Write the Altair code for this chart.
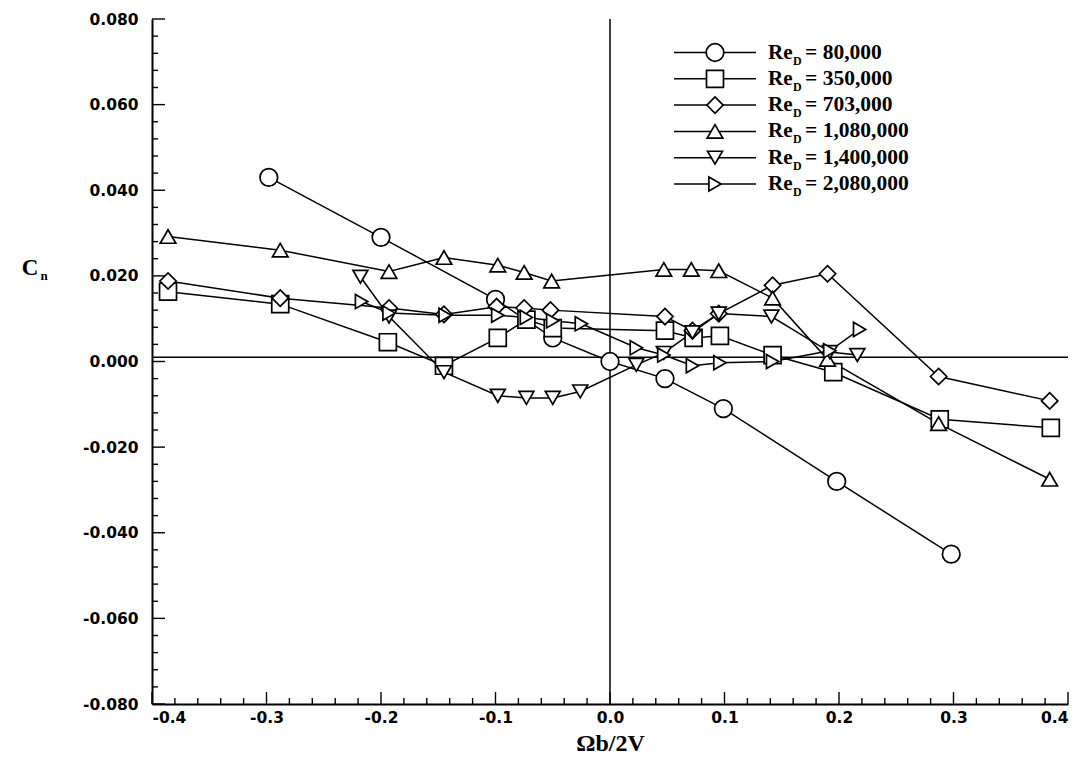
import altair as alt
import pandas as pd

# Yawing-moment coefficient C_n versus spin parameter Ωb/2V, one series per Reynolds number
series_labels = ["80,000", "350,000", "703,000", "1,080,000", "1,400,000", "2,080,000"]
series_shapes = ["circle", "square", "diamond", "triangle-up", "triangle-down", "triangle-right"]
series_sizes = [310, 200, 330, 300, 300, 300]

re80_x = [-0.298, -0.200, -0.100, -0.050, 0.000, 0.048, 0.099, 0.198, 0.298]
re80_cn = [0.0430, 0.0290, 0.0145, 0.0055, 0.0000, -0.0040, -0.0110, -0.0280, -0.0450]

re350_x = [-0.386, -0.288, -0.194, -0.145, -0.098, -0.073, -0.050, 0.048, 0.073, 0.096, 0.142, 0.195, 0.288, 0.385]
re350_cn = [0.0163, 0.0134, 0.0045, -0.0010, 0.0055, 0.0098, 0.0078, 0.0072, 0.0055, 0.0060, 0.0015, -0.0025, -0.0135, -0.0155]

re703_x = [-0.386, -0.288, -0.193, -0.145, -0.099, -0.075, -0.052, 0.048, 0.072, 0.095, 0.142, 0.190, 0.287, 0.384]
re703_cn = [0.0188, 0.0148, 0.0125, 0.0110, 0.0128, 0.0125, 0.0120, 0.0105, 0.0072, 0.0112, 0.0178, 0.0205, -0.0035, -0.0092]

re1080_x = [-0.386, -0.288, -0.193, -0.145, -0.098, -0.075, -0.051, 0.047, 0.071, 0.095, 0.142, 0.190, 0.287, 0.384]
re1080_cn = [0.0292, 0.0260, 0.0210, 0.0243, 0.0225, 0.0208, 0.0188, 0.0215, 0.0215, 0.0212, 0.0148, 0.0005, -0.0145, -0.0275]

re1400_x = [-0.218, -0.193, -0.145, -0.098, -0.073, -0.050, -0.026, 0.023, 0.047, 0.072, 0.095, 0.141, 0.192, 0.216]
re1400_cn = [0.0198, 0.0105, -0.0025, -0.0080, -0.0085, -0.0085, -0.0070, -0.0008, 0.0020, 0.0068, 0.0112, 0.0105, 0.0022, 0.0015]

re2080_x = [-0.217, -0.193, -0.144, -0.098, -0.073, -0.050, -0.025, 0.023, 0.047, 0.072, 0.096, 0.142, 0.192, 0.218]
re2080_cn = [0.0140, 0.0113, 0.0108, 0.0108, 0.0103, 0.0095, 0.0088, 0.0032, 0.0015, -0.0010, -0.0003, 0.0000, 0.0025, 0.0075]

x_ticks = [-0.4, -0.3, -0.2, -0.1, 0.0, 0.1, 0.2, 0.3, 0.4]
y_ticks = [-0.08, -0.06, -0.04, -0.02, 0.0, 0.02, 0.04, 0.06, 0.08]
y_minor = [round(-0.08 + 0.004 * i, 3) for i in range(41)]
x_minor = [round(-0.4 + 0.02 * i, 2) for i in range(41)]
zero_line_cn = 0.001

all_x = [re80_x, re350_x, re703_x, re1080_x, re1400_x, re2080_x]
all_cn = [re80_cn, re350_cn, re703_cn, re1080_cn, re1400_cn, re2080_cn]

rows = []
for label, xs_, cns in zip(series_labels, all_x, all_cn):
    for i, (xv, cv) in enumerate(zip(xs_, cns)):
        rows.append({"series": label, "x": xv, "cn": cv, "idx": i})
data = pd.DataFrame(rows)

W, H = 916, 685
X_DOM = [-0.4, 0.4]
Y_DOM = [-0.08, 0.08]
xs = alt.Scale(domain=X_DOM, nice=False, zero=False)
ys = alt.Scale(domain=Y_DOM, nice=False, zero=False)
shape_scale = alt.Scale(domain=series_labels, range=series_shapes)
size_scale = alt.Scale(domain=series_labels, range=series_sizes)

base = alt.Chart(data)

lines = base.mark_line(color="black", strokeWidth=1.5).encode(
    x=alt.X("x:Q", scale=xs, axis=alt.Axis(
        values=x_ticks, title="Ωb/2V", labelExpr="replace(format(datum.value, '.1f'), '−', '-')",
        labelFont="DejaVu Sans", labelFontWeight="bold", labelFontSize=15.5, labelColor="black",
        labelPadding=6, ticks=False, grid=False, domainColor="black", domainWidth=2,
        titleFont="Liberation Serif", titleFontWeight="bold", titleFontSize=24, titleColor="black",
        titlePadding=6)),
    y=alt.Y("cn:Q", scale=ys, axis=alt.Axis(
        values=y_ticks, title=None, labelExpr="replace(format(datum.value, '.3f'), '−', '-')",
        labelFont="DejaVu Sans", labelFontWeight="bold", labelFontSize=15.5, labelColor="black",
        labelPadding=14, ticks=False, grid=False, domainColor="black", domainWidth=2)),
    detail="series:N",
    order="idx:Q",
)

points = base.mark_point(filled=True, fill="white", stroke="black", strokeWidth=1.7, opacity=1).encode(
    x=alt.X("x:Q", scale=xs),
    y=alt.Y("cn:Q", scale=ys),
    shape=alt.Shape("series:N", scale=shape_scale, legend=None),
    size=alt.Size("series:N", scale=size_scale, legend=None),
)

# reference lines through the origin
vline = alt.Chart(pd.DataFrame({"x": [0.0]})).mark_rule(color="black", strokeWidth=1.5).encode(
    x=alt.X("x:Q", scale=xs))
hline = alt.Chart(pd.DataFrame({"cn": [zero_line_cn]})).mark_rule(color="black", strokeWidth=1.5).encode(
    y=alt.Y("cn:Q", scale=ys))

# inward ticks on the left axis
ytick_df = pd.DataFrame({"cn": y_minor, "len": [13 if abs(round(v / 0.02) * 0.02 - v) < 1e-9 else 6 for v in y_minor]})
yticks = alt.Chart(ytick_df).transform_calculate(x0="0").mark_rule(color="black", strokeWidth=1.4).encode(
    y=alt.Y("cn:Q", scale=ys),
    x=alt.X("x0:Q", scale=None),
    x2="len:Q",
)

# inward ticks on the bottom axis
xtick_df = pd.DataFrame({"x": x_minor, "top": [H - 12 if abs(round(v / 0.1) * 0.1 - v) < 1e-9 else H - 6 for v in x_minor]})
xticks = alt.Chart(xtick_df).transform_calculate(y0=str(H)).mark_rule(color="black", strokeWidth=1.4).encode(
    x=alt.X("x:Q", scale=xs),
    y=alt.Y("y0:Q", scale=None),
    y2="top:Q",
)

# legend: line sample with centred marker, then "Re_D = value"
leg = pd.DataFrame({
    "series": series_labels,
    "ly": [33.5 + 26.3 * i for i in range(len(series_labels))],
    "x1": [522] * 6, "x2": [604] * 6, "mx": [563] * 6,
    "tx": [616] * 6, "sx": [641] * 6, "vx": [653] * 6,
    "value": ["= " + s for s in series_labels],
})
lchart = alt.Chart(leg)
leg_lines = lchart.mark_rule(color="black", strokeWidth=1.5).encode(
    x=alt.X("x1:Q", scale=None), x2="x2:Q", y=alt.Y("ly:Q", scale=None))
leg_pts = lchart.mark_point(filled=True, fill="white", stroke="black", strokeWidth=1.7, opacity=1).encode(
    x=alt.X("mx:Q", scale=None), y=alt.Y("ly:Q", scale=None),
    shape=alt.Shape("series:N", scale=shape_scale, legend=None),
    size=alt.Size("series:N", scale=size_scale, legend=None))
leg_re = lchart.mark_text(text="Re", align="left", baseline="middle", font="Liberation Serif",
                          fontWeight="bold", fontSize=21, color="black").encode(
    x=alt.X("tx:Q", scale=None), y=alt.Y("ly:Q", scale=None))
leg_sub = lchart.mark_text(text="D", align="left", baseline="middle", font="Liberation Serif",
                           fontWeight="bold", fontSize=12, color="black", dy=8).encode(
    x=alt.X("sx:Q", scale=None), y=alt.Y("ly:Q", scale=None))
leg_val = lchart.mark_text(align="left", baseline="middle", font="Liberation Serif",
                           fontWeight="bold", fontSize=21.5, color="black").encode(
    x=alt.X("vx:Q", scale=None), y=alt.Y("ly:Q", scale=None), text="value:N")

# y-axis title C with subscript n
ytitle_df = pd.DataFrame({"t": ["C", "n"], "px": [-122, -108], "py": [249, 257]})
ytitle_c = alt.Chart(ytitle_df.iloc[[0]]).mark_text(align="center", baseline="middle", font="Liberation Serif",
                                                   fontWeight="bold", fontSize=23, color="black").encode(
    x=alt.X("px:Q", scale=None), y=alt.Y("py:Q", scale=None), text="t:N")
ytitle_n = alt.Chart(ytitle_df.iloc[[1]]).mark_text(align="center", baseline="middle", font="Liberation Serif",
                                                   fontWeight="bold", fontSize=13, color="black").encode(
    x=alt.X("px:Q", scale=None), y=alt.Y("py:Q", scale=None), text="t:N")

chart = alt.layer(
    hline, vline, yticks, xticks, lines, points,
    leg_lines, leg_pts, leg_re, leg_sub, leg_val, ytitle_c, ytitle_n,
).properties(
    width=W, height=H,
    autosize=alt.AutoSizeParams(type="none"),
    padding={"left": 152, "top": 19, "right": 18, "bottom": 67},
    background="white",
).configure_view(stroke=None)

chart.save("out.html", embed_options={"renderer": "svg", "actions": False})
